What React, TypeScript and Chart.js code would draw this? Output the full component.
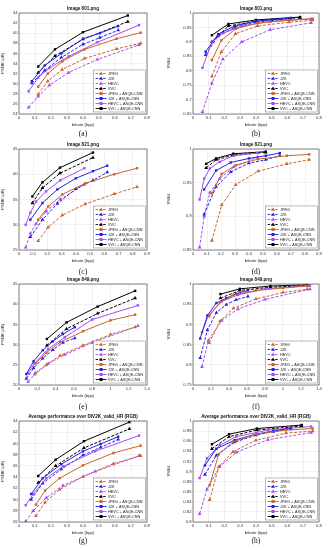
import React, { useEffect, useRef } from "react";
import { Chart, registerables } from "chart.js";
Chart.register(...registerables);

const FONT = "'Liberation Sans', Arial, Helvetica, sans-serif";
const COLORS = ["#c8652c", "#2323e0", "#a54cf5", "#000000"];
const LEGEND = ["JPEG", "J2K", "HEVC", "VVC", "JPEG + ASQE-CNN", "J2K + ASQE-CNN", "HEVC + ASQE-CNN", "VVC + ASQE-CNN"];
const PANEL_LABELS = ["(a)", "(b)", "(c)", "(d)", "(e)", "(f)", "(g)", "(h)"];
const TITLES = ["Image 801.png", "Image 821.png", "Image 849.png", "Average performance over DIV2K_valid_HR (RGB)"];

// ---- Image 801 ----
const bpp801Jpeg = [0.12, 0.18, 0.27, 0.41, 0.61, 0.76];
const bpp801J2k = [0.08, 0.16, 0.265, 0.40, 0.505, 0.62];
const bpp801Hevc = [0.06, 0.12, 0.19, 0.31, 0.49, 0.75];
const bpp801Vvc = [0.12, 0.225, 0.40, 0.68];
const psnr801Jpeg = [27.9, 30.5, 32.8, 35.0, 36.9, 38.0];
const psnr801J2k = [30.1, 32.6, 35.2, 37.8, 39.1, 40.6];
const psnr801Hevc = [25.3, 27.5, 29.7, 32.2, 34.8, 37.7];
const psnr801Vvc = [32.2, 35.5, 38.8, 42.3];
const psnr801JpegQ = [29.4, 32.0, 34.4, 36.8, 38.9, 40.1];
const psnr801J2kQ = [30.5, 33.6, 36.0, 38.9, 40.0, 41.4];
const psnr801HevcQ = [28.5, 31.2, 33.1, 35.4, 38.2, 41.6];
const psnr801VvcQ = [33.4, 36.8, 40.2, 43.5];
const ssim801Jpeg = [0.78, 0.865, 0.928, 0.955, 0.968, 0.975];
const ssim801J2k = [0.855, 0.92, 0.95, 0.968, 0.974, 0.98];
const ssim801Hevc = [0.657, 0.757, 0.84, 0.9, 0.942, 0.966];
const ssim801Vvc = [0.9, 0.955, 0.972, 0.984];
const ssim801JpegQ = [0.837, 0.905, 0.945, 0.965, 0.975, 0.98];
const ssim801J2kQ = [0.866, 0.927, 0.955, 0.972, 0.977, 0.983];
const ssim801HevcQ = [0.81, 0.9, 0.93, 0.955, 0.97, 0.98];
const ssim801VvcQ = [0.923, 0.962, 0.976, 0.986];

// ---- Image 821 ----
const bpp821Jpeg = [0.135, 0.205, 0.305, 0.465, 0.67, 0.83];
const bpp821J2k = [0.08, 0.165, 0.27, 0.40, 0.52, 0.62];
const bpp821Hevc = [0.047, 0.08, 0.12, 0.19, 0.29, 0.46];
const bpp821Vvc = [0.094, 0.165, 0.288, 0.52];
const psnr821Jpeg = [26.8, 29.5, 31.9, 34.1, 36.1, 37.5];
const psnr821J2k = [27.6, 31.0, 34.2, 37.1, 38.8, 40.4];
const psnr821Hevc = [25.5, 28.3, 30.2, 32.6, 35.0, 38.0];
const psnr821Vvc = [34.3, 37.3, 40.2, 43.3];
const psnr821JpegQ = [31.0, 33.6, 36.0, 38.2, 40.0, 41.2];
const psnr821J2kQ = [31.0, 34.3, 37.0, 39.2, 40.6, 41.7];
const psnr821HevcQ = [30.0, 32.4, 34.6, 36.6, 38.8, 41.2];
const psnr821VvcQ = [35.6, 38.4, 41.3, 44.3];
const ssim821Jpeg = [0.864, 0.917, 0.947, 0.967, 0.978, 0.984];
const ssim821J2k = [0.903, 0.944, 0.966, 0.979, 0.984, 0.99];
const ssim821Hevc = [0.854, 0.9, 0.935, 0.956, 0.973, 0.988];
const ssim821Vvc = [0.972, 0.984, 0.991, 0.995];
const ssim821JpegQ = [0.934, 0.963, 0.976, 0.985, 0.99, 0.992];
const ssim821J2kQ = [0.94, 0.968, 0.98, 0.986, 0.99, 0.994];
const ssim821HevcQ = [0.925, 0.956, 0.971, 0.981, 0.99, 0.994];
const ssim821VvcQ = [0.978, 0.986, 0.993, 0.996];

// ---- Image 849 ----
const bpp849Jpeg = [0.18, 0.3, 0.45, 0.7, 1.0, 1.27];
const bpp849J2k = [0.08, 0.16, 0.26, 0.37, 0.48, 0.61];
const bpp849Hevc = [0.1, 0.17, 0.32, 0.5, 0.8, 1.3];
const bpp849Vvc = [0.305, 0.52, 0.86, 1.27];
const psnr849Jpeg = [23.0, 25.0, 27.3, 29.8, 32.5, 34.3];
const psnr849J2k = [21.6, 24.2, 26.6, 28.7, 30.5, 31.6];
const psnr849Hevc = [20.8, 22.6, 25.3, 27.5, 30.5, 34.6];
const psnr849Vvc = [29.8, 33.9, 37.7, 41.5];
const psnr849JpegQ = [25.3, 28.0, 30.6, 33.3, 36.0, 37.4];
const psnr849J2kQ = [22.7, 25.9, 28.6, 30.8, 32.6, 34.3];
const psnr849HevcQ = [22.9, 25.4, 28.9, 31.8, 36.2, 39.7];
const psnr849VvcQ = [31.4, 35.5, 39.4, 43.3];
const ssim849Jpeg = [0.854, 0.908, 0.94, 0.963, 0.979, 0.987];
const ssim849J2k = [0.817, 0.886, 0.929, 0.949, 0.961, 0.969];
const ssim849Hevc = [0.795, 0.86, 0.91, 0.938, 0.962, 0.987];
const ssim849Vvc = [0.965, 0.984, 0.992, 0.996];
const ssim849JpegQ = [0.92, 0.955, 0.973, 0.984, 0.99, 0.995];
const ssim849J2kQ = [0.865, 0.922, 0.953, 0.965, 0.976, 0.984];
const ssim849HevcQ = [0.88, 0.922, 0.957, 0.973, 0.988, 0.996];
const ssim849VvcQ = [0.975, 0.988, 0.995, 0.998];

// ---- Average over DIV2K_valid_HR ----
const bppAvgJpeg = [0.106, 0.163, 0.254, 0.40, 0.59, 0.76];
const bppAvgJ2k = [0.076, 0.148, 0.264, 0.40, 0.51, 0.62];
const bppAvgHevc = [0.042, 0.089, 0.17, 0.275, 0.476, 0.75];
const bppAvgVvc = [0.12, 0.229, 0.406, 0.69];
const psnrAvgJpeg = [27.1, 29.5, 31.8, 34.1, 36.4, 37.8];
const psnrAvgJ2k = [30.0, 32.9, 35.4, 37.9, 39.3, 40.7];
const psnrAvgHevc = [26.1, 28.0, 30.3, 32.5, 35.0, 37.8];
const psnrAvgVvc = [33.0, 36.0, 39.2, 42.6];
const psnrAvgJpegQ = [29.1, 31.6, 33.8, 36.1, 38.3, 39.6];
const psnrAvgJ2kQ = [31.0, 33.8, 36.3, 38.6, 39.9, 41.2];
const psnrAvgHevcQ = [29.0, 31.0, 33.8, 35.9, 38.6, 41.4];
const psnrAvgVvcQ = [34.2, 37.1, 40.4, 43.8];
const ssimAvgJpeg = [0.844, 0.909, 0.939, 0.962, 0.976, 0.98];
const ssimAvgJ2k = [0.894, 0.932, 0.958, 0.972, 0.979, 0.984];
const ssimAvgHevc = [0.816, 0.865, 0.91, 0.938, 0.963, 0.977];
const ssimAvgVvc = [0.945, 0.969, 0.982, 0.99];
const ssimAvgJpegQ = [0.873, 0.934, 0.959, 0.974, 0.982, 0.985];
const ssimAvgJ2kQ = [0.912, 0.945, 0.962, 0.974, 0.98, 0.986];
const ssimAvgHevcQ = [0.887, 0.926, 0.952, 0.969, 0.982, 0.989];
const ssimAvgVvcQ = [0.954, 0.974, 0.985, 0.992];

// axis ranges [min, max, step]
const X_AXES = [[0, 0.8, 0.1], [0, 0.9, 0.1], [0, 1.4, 0.2], [0, 0.8, 0.1]];
const Y_PSNR = [[24, 44, 2], [25, 45, 5], [20, 45, 5], [26, 44, 2]];
const Y_SSIM = [[0.65, 1, 0.05], [0.85, 1, 0.05], [0.75, 1, 0.05], [0.8, 1, 0.02]];

const BPP = [
  [bpp801Jpeg, bpp801J2k, bpp801Hevc, bpp801Vvc],
  [bpp821Jpeg, bpp821J2k, bpp821Hevc, bpp821Vvc],
  [bpp849Jpeg, bpp849J2k, bpp849Hevc, bpp849Vvc],
  [bppAvgJpeg, bppAvgJ2k, bppAvgHevc, bppAvgVvc],
];
const PSNR = [
  [psnr801Jpeg, psnr801J2k, psnr801Hevc, psnr801Vvc, psnr801JpegQ, psnr801J2kQ, psnr801HevcQ, psnr801VvcQ],
  [psnr821Jpeg, psnr821J2k, psnr821Hevc, psnr821Vvc, psnr821JpegQ, psnr821J2kQ, psnr821HevcQ, psnr821VvcQ],
  [psnr849Jpeg, psnr849J2k, psnr849Hevc, psnr849Vvc, psnr849JpegQ, psnr849J2kQ, psnr849HevcQ, psnr849VvcQ],
  [psnrAvgJpeg, psnrAvgJ2k, psnrAvgHevc, psnrAvgVvc, psnrAvgJpegQ, psnrAvgJ2kQ, psnrAvgHevcQ, psnrAvgVvcQ],
];
const SSIM = [
  [ssim801Jpeg, ssim801J2k, ssim801Hevc, ssim801Vvc, ssim801JpegQ, ssim801J2kQ, ssim801HevcQ, ssim801VvcQ],
  [ssim821Jpeg, ssim821J2k, ssim821Hevc, ssim821Vvc, ssim821JpegQ, ssim821J2kQ, ssim821HevcQ, ssim821VvcQ],
  [ssim849Jpeg, ssim849J2k, ssim849Hevc, ssim849Vvc, ssim849JpegQ, ssim849J2kQ, ssim849HevcQ, ssim849VvcQ],
  [ssimAvgJpeg, ssimAvgJ2k, ssimAvgHevc, ssimAvgVvc, ssimAvgJpegQ, ssimAvgJ2kQ, ssimAvgHevcQ, ssimAvgVvcQ],
];

const ROW_TOPS = [0, 136, 271, 408];
const LABEL_Y = [134, 272, 407, 541];
const CELL_W = 166;
const CELL_H = 130;

const fmt = (v: number) => String(Number(Number(v).toFixed(3)));

function drawMarker(ctx: CanvasRenderingContext2D, style: string, x: number, y: number, color: string) {
  ctx.fillStyle = color;
  ctx.beginPath();
  if (style === "triangle") {
    ctx.moveTo(x, y - 2.1);
    ctx.lineTo(x + 2, y + 1.3);
    ctx.lineTo(x - 2, y + 1.3);
    ctx.closePath();
  } else {
    ctx.rect(x - 1.5, y - 1.5, 3, 3);
  }
  ctx.fill();
}

function Panel({ row, col }: { row: number; col: number }) {
  const ref = useRef<HTMLCanvasElement | null>(null);
  useEffect(() => {
    const canvas = ref.current;
    if (!canvas) return;
    const isSsim = col === 1;
    const [xMin, xMax, xStep] = X_AXES[row];
    const [yMin, yMax, yStep] = isSsim ? Y_SSIM[row] : Y_PSNR[row];
    const vals = isSsim ? SSIM[row] : PSNR[row];
    const bpp = BPP[row];
    const title = TITLES[row];
    const yAxisW = isSsim ? 27 : 19;
    const padRight = isSsim ? 13 : 19;

    const datasets = LEGEND.map((name, i) => {
      const c = i % 4;
      const base = i < 4;
      return {
        label: name,
        data: bpp[c].map((x, k) => ({ x, y: vals[i][k] })),
        borderColor: COLORS[c],
        backgroundColor: COLORS[c],
        borderWidth: 1,
        borderDash: base ? [3, 1.6] : [],
        pointStyle: base ? "triangle" : "rect",
        pointRadius: base ? 2.2 : 1.7,
        pointBorderWidth: 0,
        pointBorderColor: COLORS[c],
        pointBackgroundColor: COLORS[c],
        tension: 0,
        fill: false,
        order: base ? 2 : 1,
      };
    });

    const decor = {
      id: "decor",
      beforeDatasetsDraw(chart: any) {
        const { ctx, chartArea: a } = chart;
        ctx.save();
        ctx.font = `bold 4.6px ${FONT}`;
        ctx.fillStyle = "#111";
        ctx.textAlign = "center";
        ctx.textBaseline = "middle";
        ctx.fillText(title, (a.left + a.right) / 2, a.top - 4.5);
        ctx.restore();
      },
      afterDraw(chart: any) {
        const { ctx, chartArea: a } = chart;
        ctx.save();
        ctx.strokeStyle = "#333";
        ctx.lineWidth = 0.6;
        ctx.strokeRect(a.left, a.top, a.right - a.left, a.bottom - a.top);
        // legend
        ctx.font = `3.8px ${FONT}`;
        let tw = 0;
        LEGEND.forEach((n) => (tw = Math.max(tw, ctx.measureText(n).width)));
        const rowH = 5;
        const w = tw + 17;
        const h = LEGEND.length * rowH + 2;
        const x0 = a.right - 1.5 - w;
        const y0 = a.bottom - 2 - h;
        ctx.fillStyle = "#fff";
        ctx.fillRect(x0, y0, w, h);
        ctx.strokeStyle = "#555";
        ctx.lineWidth = 0.4;
        ctx.strokeRect(x0, y0, w, h);
        LEGEND.forEach((n, i) => {
          const c = i % 4;
          const base = i < 4;
          const yy = y0 + 3.5 + i * rowH;
          ctx.strokeStyle = COLORS[c];
          ctx.lineWidth = 0.9;
          ctx.setLineDash(base ? [2.5, 1.3] : []);
          ctx.beginPath();
          ctx.moveTo(x0 + 2, yy);
          ctx.lineTo(x0 + 13, yy);
          ctx.stroke();
          ctx.setLineDash([]);
          drawMarker(ctx, base ? "triangle" : "rect", x0 + 7.5, yy, COLORS[c]);
          ctx.fillStyle = "#222";
          ctx.textAlign = "left";
          ctx.textBaseline = "middle";
          ctx.fillText(n, x0 + 14.5, yy + 0.2);
        });
        ctx.restore();
      },
    };

    const chart = new Chart(canvas, {
      type: "line",
      data: { datasets },
      options: {
        animation: false,
        responsive: false,
        maintainAspectRatio: false,
        layout: { padding: { top: 13, right: padRight, left: 0, bottom: 0 } },
        plugins: { legend: { display: false }, title: { display: false }, tooltip: { enabled: false } },
        scales: {
          x: {
            type: "linear",
            min: xMin,
            max: xMax,
            ticks: {
              stepSize: xStep,
              callback: (v: any) => fmt(v),
              font: { size: 4.2, family: FONT },
              color: "#333",
              padding: 1.5,
              maxRotation: 0,
              autoSkip: false,
            },
            grid: { color: "#e3e3e3", lineWidth: 0.5, drawTicks: false },
            border: { display: false },
            title: {
              display: true,
              text: "bitrate (bpp)",
              font: { size: 4.2, family: FONT },
              color: "#222",
              padding: { top: 1, bottom: 3 },
            },
            afterFit: (s: any) => {
              s.height = 16;
            },
          },
          y: {
            type: "linear",
            min: yMin,
            max: yMax,
            ticks: {
              stepSize: yStep,
              callback: (v: any) => fmt(v),
              font: { size: 4.2, family: FONT },
              color: "#333",
              padding: 1.5,
              autoSkip: false,
            },
            grid: { color: "#e3e3e3", lineWidth: 0.5, drawTicks: false },
            border: { display: false },
            title: {
              display: true,
              text: isSsim ? "SSIM" : "PSNR (dB)",
              font: { size: 4.2, family: FONT },
              color: "#222",
              padding: { top: 0, bottom: 0 },
            },
            afterFit: (s: any) => {
              s.width = yAxisW;
            },
          },
        },
      },
      plugins: [decor],
    } as any);
    return () => chart.destroy();
  }, [row, col]);

  return (
    <canvas
      ref={ref}
      width={CELL_W}
      height={CELL_H}
      style={{ position: "absolute", left: col * CELL_W, top: ROW_TOPS[row], width: CELL_W, height: CELL_H }}
    />
  );
}

export default function App() {
  const cells: React.ReactNode[] = [];
  for (let r = 0; r < 4; r++) {
    for (let c = 0; c < 2; c++) {
      cells.push(<Panel key={`p${r}${c}`} row={r} col={c} />);
      const cx = c === 0 ? 83 : 166 + (27 + 153) / 2;
      cells.push(
        <div
          key={`l${r}${c}`}
          style={{
            position: "absolute",
            left: cx - 15,
            width: 30,
            top: LABEL_Y[r] - 5,
            height: 10,
            lineHeight: "10px",
            textAlign: "center",
            fontFamily: "'Liberation Serif', 'DejaVu Serif', serif",
            fontSize: 7.5,
            color: "#111",
          }}
        >
          {PANEL_LABELS[r * 2 + c]}
        </div>
      );
    }
  }
  return (
    <div style={{ position: "fixed", left: 0, top: 0, width: 332, height: 550, background: "#fff", overflow: "hidden" }}>
      {cells}
    </div>
  );
}
